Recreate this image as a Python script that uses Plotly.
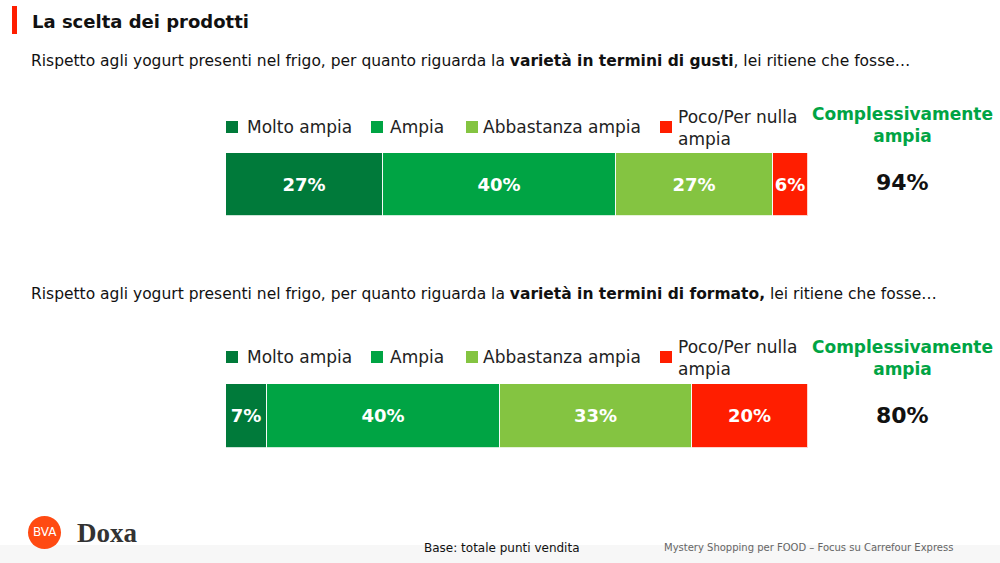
import plotly.graph_objects as go

# ---- data ----
categories = ["Molto ampia", "Ampia", "Abbastanza ampia", "Poco/Per nulla ampia"]
legend_labels = ["Molto ampia", "Ampia", "Abbastanza ampia", "Poco/Per nulla<br>ampia"]
gusti_values = [27, 40, 27, 6]
formato_values = [7, 40, 33, 20]
gusti_total = "94%"
formato_total = "80%"
colors = ["#007A3A", "#00A444", "#84C441", "#FF1E00"]

FONT = "DejaVu Sans"
W, H = 1000, 563

def px(x):
    return x / W

def py(y):
    return 1 - y / H

fig = go.Figure()

for vals, xa, ya in [(gusti_values, "x", "y"), (formato_values, "x2", "y2")]:
    for cat, v, c in zip(categories, vals, colors):
        fig.add_trace(go.Bar(
            x=[v], y=[0], orientation="h", xaxis=xa, yaxis=ya,
            name=cat, showlegend=False, width=1,
            marker=dict(color=c, line=dict(color="rgba(255,255,255,0.8)", width=1)),
            text=[f"{v}%"], textposition="inside", insidetextanchor="middle",
            textangle=0,
            textfont=dict(family=FONT, size=18, color="white", weight="bold"),
            hoverinfo="skip",
        ))

bar_left, bar_right = px(226), px(808)
ax = dict(range=[0, 100], showgrid=False, zeroline=False, showticklabels=False,
          showline=False, fixedrange=True)
ay = dict(range=[-0.5, 0.5], showgrid=False, zeroline=False, showticklabels=False,
          showline=False, fixedrange=True)
fig.update_layout(
    xaxis=dict(ax, domain=[bar_left, bar_right], anchor="y"),
    yaxis=dict(ay, domain=[py(216), py(153)], anchor="x"),
    xaxis2=dict(ax, domain=[bar_left, bar_right], anchor="y2"),
    yaxis2=dict(ay, domain=[py(448), py(384)], anchor="x2"),
    barmode="stack", bargap=0,
    width=W, height=H, margin=dict(l=0, r=0, t=0, b=0),
    paper_bgcolor="white", plot_bgcolor="white",
    uniformtext=dict(minsize=18, mode="show"),
)

ann = []
shapes = []

# title + accent bar
shapes.append(dict(type="rect", xref="paper", yref="paper", x0=px(12), x1=px(17),
                   y0=py(34), y1=py(6), fillcolor="#FF1E00", line_width=0))
ann.append(dict(text="<b>La scelta dei prodotti</b>", x=px(30), y=py(22), xanchor="left",
                yanchor="middle", font=dict(family=FONT, size=18, color="#111")))

subs = [
    ("Rispetto agli yogurt presenti nel frigo, per quanto riguarda la <b>varietà in termini di gusti</b>, lei ritiene che fosse…", 61),
    ("Rispetto agli yogurt presenti nel frigo, per quanto riguarda la <b>varietà in termini di formato,</b> lei ritiene che fosse…", 294),
]
for t, y in subs:
    ann.append(dict(text=t, x=px(29), y=py(y), xanchor="left", yanchor="middle",
                    font=dict(family=FONT, size=15.5, color="#111")))

# legends
sq_x = [226, 371, 466, 660]
tx_x = [245, 388, 481, 676]
for ly in [127, 357]:
    for i, lab in enumerate(legend_labels):
        shapes.append(dict(type="rect", xref="paper", yref="paper",
                           x0=px(sq_x[i]), x1=px(sq_x[i] + 12),
                           y0=py(ly + 6), y1=py(ly - 6), fillcolor=colors[i], line_width=0))
        ann.append(dict(text=lab, x=px(tx_x[i]), y=py(ly + (1 if i == 3 else 0)),
                        xanchor="left", yanchor="middle", align="left",
                        font=dict(family=FONT, size=17, color="#222")))

# totals
for ty in [125, 358]:
    ann.append(dict(text="<b>Complessivamente<br>ampia</b>", x=px(902), y=py(ty),
                    xanchor="center", yanchor="middle", align="center",
                    font=dict(family=FONT, size=17, color="#00A444")))
for ty, tot in [(183, gusti_total), (415, formato_total)]:
    ann.append(dict(text=f"<b>{tot}</b>", x=px(902), y=py(ty), xanchor="center",
                    yanchor="middle", font=dict(family=FONT, size=22, color="#111")))

# footer
shapes.append(dict(type="rect", xref="paper", yref="paper", x0=0, x1=1, y0=0, y1=py(545),
                   fillcolor="rgba(240,240,240,0.5)", line_width=0, layer="below"))
ann.append(dict(text="Base: totale punti vendita", x=px(502), y=py(548), xanchor="center",
                yanchor="middle", font=dict(family=FONT, size=12, color="#111")))
ann.append(dict(text="Mystery Shopping per FOOD – Focus su Carrefour Express", x=px(955),
                y=py(547), xanchor="right", yanchor="middle",
                font=dict(family=FONT, size=10, color="#666")))
# logo
shapes.append(dict(type="circle", xref="paper", yref="paper", x0=px(28), x1=px(61),
                   y0=py(549), y1=py(516), fillcolor="#FF4A12", line_width=0))
ann.append(dict(text="BVA", x=px(44.5), y=py(532), xanchor="center", yanchor="middle",
                font=dict(family=FONT, size=12, color="white")))
ann.append(dict(text="<b>Doxa</b>", x=px(75), y=py(533), xanchor="left", yanchor="middle",
                font=dict(family="Liberation Serif", size=27, color="#333")))

for a in ann:
    a.setdefault("xref", "paper")
    a.setdefault("yref", "paper")
    a.setdefault("showarrow", False)
fig.update_layout(annotations=ann, shapes=shapes)

fig.write_html("out.html", config={"displayModeBar": False},
               post_script="document.body.style.margin='0';")
